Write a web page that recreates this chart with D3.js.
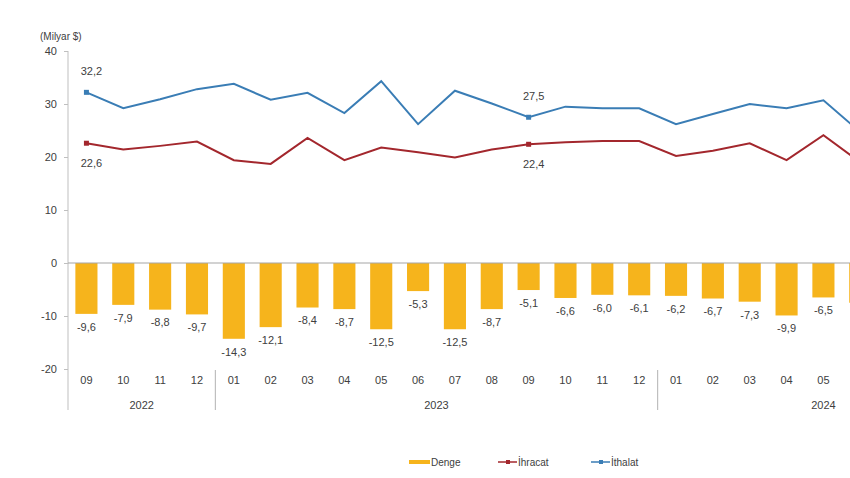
<!DOCTYPE html>
<html>
<head>
<meta charset="utf-8">
<script src="https://cdn.jsdelivr.net/npm/d3@7"></script>
<style>
  html, body { margin: 0; padding: 0; background: #ffffff; }
  svg { display: block; }
  text { font-family: "Liberation Sans", Arial, sans-serif; fill: #404040; }
</style>
</head>
<body>
<svg id="chart" width="850" height="478"></svg>
<script>
// ---- Data ----
const months = ["09","10","11","12","01","02","03","04","05","06","07","08","09","10","11","12","01","02","03","04","05","06","07","08","09"];
const years  = ["2022","2022","2022","2022","2023","2023","2023","2023","2023","2023","2023","2023","2023","2023","2023","2023","2024","2024","2024","2024","2024","2024","2024","2024","2024"];
const yearLabels = ["2022","2023","2024"];
const denge   = [-9.6,-7.9,-8.8,-9.7,-14.3,-12.1,-8.4,-8.7,-12.5,-5.3,-12.5,-8.7,-5.1,-6.6,-6.0,-6.1,-6.2,-6.7,-7.3,-9.9,-6.5,-7.5];
const ihracat = [22.6,21.4,22.1,22.9,19.4,18.7,23.6,19.4,21.8,20.9,19.9,21.4,22.4,22.8,23.0,23.0,20.2,21.2,22.6,19.4,24.1,19.0];
const ithalat = [32.2,29.2,30.9,32.8,33.8,30.8,32.1,28.3,34.3,26.2,32.5,30.1,27.5,29.5,29.2,29.2,26.2,28.1,30.0,29.2,30.7,24.7];
const labeledIdx = [0, 12];
const yTicks = [-20,-10,0,10,20,30,40];
const seriesNames = ["Denge","İhracat","İthalat"];

const colors = { denge: "#F6B41C", ihracat: "#A3272D", ithalat: "#3A7DB5" };

const W = 850;
const svg = d3.select("#chart");
const keys = months.map((m, i) => years[i] + "-" + m);
const step = 36.85;
const x0 = 68;

const x = d3.scaleBand().domain(keys).range([x0, x0 + step * keys.length])
  .paddingInner(0.4).paddingOuter(0.2);
const y = d3.scaleLinear().domain([-20, 40]).range([369, 51]);
const cx = i => x(keys[i]) + x.bandwidth() / 2;
const visible = i => cx(i) + 12 < W;   // labels that fit in the frame

const fmt = v => d3.format(".1f")(v).replace("−", "-").replace(".", ",");

// Y axis
const yAxis = d3.axisLeft(y).tickValues(yTicks).tickSize(4).tickPadding(7).tickFormat(d => String(d));
const gy = svg.append("g").attr("transform", `translate(${x0},0)`).call(yAxis);
gy.select(".domain").remove();
gy.selectAll(".tick line").attr("stroke", "#bfbfbf");
gy.selectAll(".tick text").attr("font-size", 11).attr("fill", "#404040")
  .style("font-family", "'Liberation Sans', Arial, sans-serif");
svg.append("line").attr("x1", x0).attr("x2", x0).attr("y1", y(40)).attr("y2", 410)
  .attr("stroke", "#bfbfbf").attr("stroke-width", 1);

svg.append("text").attr("x", 40).attr("y", 40).attr("font-size", 10).text("(Milyar $)");

// Bars
svg.append("g").selectAll("rect").data(denge).join("rect")
  .attr("x", (d, i) => x(keys[i]))
  .attr("width", x.bandwidth())
  .attr("y", d => Math.min(y(0), y(d)))
  .attr("height", d => Math.abs(y(d) - y(0)))
  .attr("fill", colors.denge);

// Zero line
svg.append("line").attr("x1", x0).attr("x2", W).attr("y1", y(0)).attr("y2", y(0))
  .attr("stroke", "#a6a6a6").attr("stroke-width", 1.2);

// Bar labels
svg.append("g").selectAll("text").data(denge.map((v, i) => ({ v, i })).filter(d => visible(d.i))).join("text")
  .attr("x", d => cx(d.i))
  .attr("y", d => y(d.v) + 13)
  .attr("dy", "0.35em")
  .attr("text-anchor", "middle")
  .attr("font-size", 11)
  .text(d => fmt(d.v));

// Lines
const line = d3.line().x((d, i) => cx(i)).y(d => y(d));
svg.append("path").datum(ihracat).attr("d", line).attr("fill", "none")
  .attr("stroke", colors.ihracat).attr("stroke-width", 2);
svg.append("path").datum(ithalat).attr("d", line).attr("fill", "none")
  .attr("stroke", colors.ithalat).attr("stroke-width", 2);

// Markers & labels at labeled points
labeledIdx.forEach(i => {
  [[ithalat, colors.ithalat, -21], [ihracat, colors.ihracat, 20]].forEach(([arr, c, off]) => {
    svg.append("rect").attr("x", cx(i) - 2.5).attr("y", y(arr[i]) - 2.5)
      .attr("width", 5).attr("height", 5).attr("fill", c);
    svg.append("text").attr("x", cx(i) + 5).attr("y", y(arr[i]) + off)
      .attr("dy", "0.35em").attr("text-anchor", "middle").attr("font-size", 11)
      .text(fmt(arr[i]));
  });
});

// Category axis: months
svg.append("g").selectAll("text").data(months.map((m, i) => ({ m, i })).filter(d => visible(d.i))).join("text")
  .attr("x", d => cx(d.i)).attr("y", 380).attr("dy", "0.35em")
  .attr("text-anchor", "middle").attr("font-size", 11).text(d => d.m);

// Year labels & separators
yearLabels.forEach((yr, k) => {
  const idx = years.map((v, i) => v === yr ? i : -1).filter(i => i >= 0);
  const first = idx[0], last = idx[idx.length - 1];
  svg.append("text").attr("x", (cx(first) + cx(last)) / 2).attr("y", 405).attr("dy", "0.35em")
    .attr("text-anchor", "middle").attr("font-size", 11).text(yr);
  if (k > 0) {
    const sx = x(keys[first]) - x.step() * x.paddingInner() / 2;
    svg.append("line").attr("x1", sx).attr("x2", sx).attr("y1", 370).attr("y2", 410)
      .attr("stroke", "#bfbfbf").attr("stroke-width", 1.2);
  }
});

// Legend
const lg = svg.append("g").attr("transform", "translate(0,462)");
const legendItems = [
  { name: seriesNames[0], color: colors.denge, x: 409, type: "bar" },
  { name: seriesNames[1], color: colors.ihracat, x: 498, type: "line" },
  { name: seriesNames[2], color: colors.ithalat, x: 591, type: "line" }
];
legendItems.forEach(it => {
  if (it.type === "bar") {
    lg.append("line").attr("x1", it.x).attr("x2", it.x + 21).attr("y1", 0).attr("y2", 0)
      .attr("stroke", it.color).attr("stroke-width", 4);
  } else {
    lg.append("line").attr("x1", it.x).attr("x2", it.x + 19).attr("y1", 0).attr("y2", 0)
      .attr("stroke", it.color).attr("stroke-width", 1.5);
    lg.append("rect").attr("x", it.x + 8).attr("y", -2).attr("width", 4).attr("height", 4)
      .attr("fill", it.color);
  }
  lg.append("text").attr("x", it.x + (it.type === "bar" ? 22 : 20)).attr("y", 0).attr("dy", "0.35em")
    .attr("font-size", 10).text(it.name);
});
</script>
</body>
</html>
